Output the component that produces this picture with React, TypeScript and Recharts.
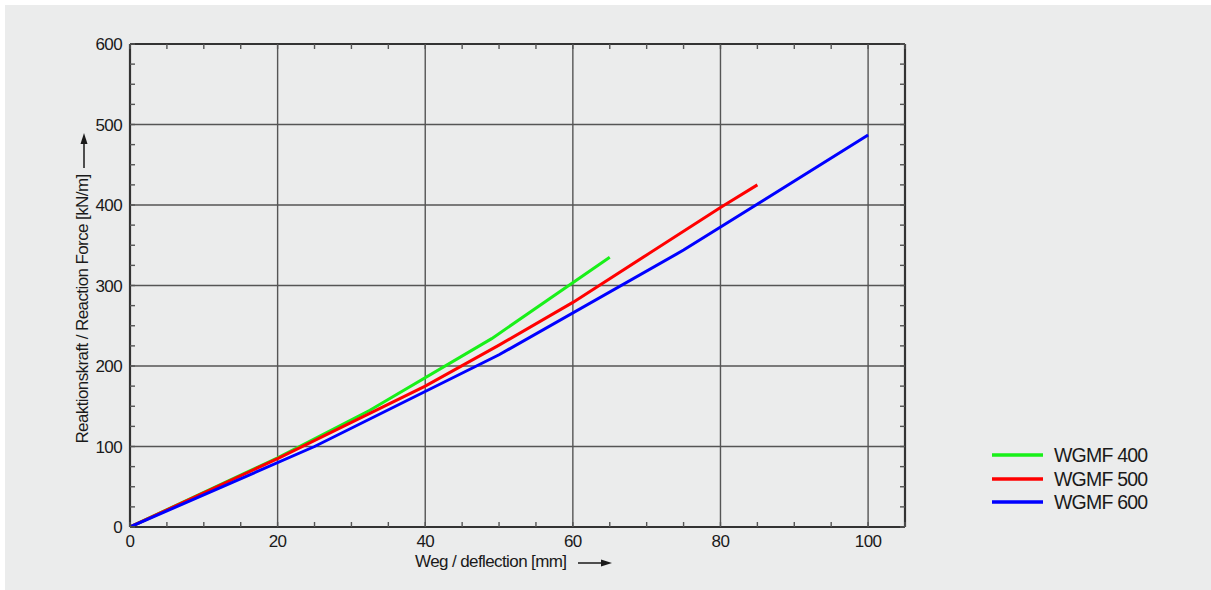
import React from 'react';
import { LineChart, Line, XAxis, YAxis, CartesianGrid } from 'recharts';

// ---- data ----
const wgmf400X = [0, 20, 32.5, 49, 65];
const wgmf400Y = [0, 86, 145, 234, 335];

const wgmf500X = [0, 20, 40, 50, 60, 70, 80, 85];
const wgmf500Y = [0, 85, 175, 226, 279, 338, 397, 425];

const wgmf600X = [0, 25, 50, 75, 100];
const wgmf600Y = [0, 100, 214, 344, 487];

const xMajorTicks = [0, 20, 40, 60, 80, 100];
const xMinorTicks = [0, 5, 10, 15, 20, 25, 30, 35, 40, 45, 50, 55, 60, 65, 70, 75, 80, 85, 90, 95, 100, 105];
const yMajorTicks = [0, 100, 200, 300, 400, 500, 600];
const yMinorTicks = [0, 25, 50, 75, 100, 125, 150, 175, 200, 225, 250, 275, 300, 325, 350, 375, 400, 425, 450, 475, 500, 525, 550, 575, 600];

const seriesNames = ['WGMF 400', 'WGMF 500', 'WGMF 600'];
const seriesColors = ['#19f019', '#ff0000', '#0000ff'];

const xTitle = 'Weg / deflection [mm]';
const yTitle = 'Reaktionskraft / Reaction Force [kN/m]';

const toPoints = (xs: number[], ys: number[]) => xs.map((x, i) => ({ x, y: ys[i] }));
const seriesData = [
  toPoints(wgmf400X, wgmf400Y),
  toPoints(wgmf500X, wgmf500Y),
  toPoints(wgmf600X, wgmf600Y),
];

const FONT = '"Liberation Sans", Arial, sans-serif';
const TEXT = '#1a1a1a';
const BG = '#ebecec';

const tickStyle = { fontSize: 17, fill: TEXT, fontFamily: FONT, letterSpacing: -0.6 };
const frameLine = { stroke: '#333', strokeWidth: 2.2 };
const TICK_LEN = 5;

const makeMinorTick = (dx: number, dy: number) => (props: any) => {
  const { x, y } = props;
  return <line x1={x} y1={y} x2={x + dx * TICK_LEN} y2={y + dy * TICK_LEN} stroke="#555" strokeWidth={1.4} />;
};
const TickBottom = makeMinorTick(0, -1);
const TickTop = makeMinorTick(0, 1);
const TickLeft = makeMinorTick(1, 0);
const TickRight = makeMinorTick(-1, 0);

export default function App() {
  return (
    <div style={{ position: 'absolute', left: 5, top: 5, width: 1206, height: 585, background: BG, fontFamily: FONT }}>
      <LineChart width={1206} height={585} margin={{ top: 39, right: 306, bottom: 33, left: 65 }}>
        <CartesianGrid xAxisId="main" yAxisId="main" stroke="#555" strokeWidth={1.4} />
        <XAxis xAxisId="main" dataKey="x" type="number" domain={[0, 105]} allowDataOverflow ticks={xMajorTicks}
          axisLine={false} tickLine={false} tickSize={0} tickMargin={8} height={30} tick={tickStyle} interval={0} />
        <XAxis xAxisId="mb" dataKey="x" type="number" domain={[0, 105]} allowDataOverflow ticks={xMinorTicks} orientation="bottom" mirror
          axisLine={frameLine} tickLine={false} tickSize={0} tickMargin={0} tick={TickBottom} interval={0} height={30} />
        <XAxis xAxisId="mt" dataKey="x" type="number" domain={[0, 105]} allowDataOverflow ticks={xMinorTicks} orientation="top" mirror
          axisLine={frameLine} tickLine={false} tickSize={0} tickMargin={0} tick={TickTop} interval={0} height={30} />
        <YAxis yAxisId="main" type="number" domain={[0, 600]} allowDataOverflow ticks={yMajorTicks}
          axisLine={false} tickLine={false} tickSize={0} tickMargin={8} width={60} tick={tickStyle} interval={0} />
        <YAxis yAxisId="ml" type="number" domain={[0, 600]} allowDataOverflow ticks={yMinorTicks} orientation="left" mirror
          axisLine={frameLine} tickLine={false} tickSize={0} tickMargin={0} tick={TickLeft} interval={0} width={60} />
        <YAxis yAxisId="mr" type="number" domain={[0, 600]} allowDataOverflow ticks={yMinorTicks} orientation="right" mirror
          axisLine={frameLine} tickLine={false} tickSize={0} tickMargin={0} tick={TickRight} interval={0} width={60} />
        {seriesData.map((d, i) => (
          <Line key={seriesNames[i]} xAxisId="main" yAxisId="main" data={d} dataKey="y" name={seriesNames[i]}
            type="linear" stroke={seriesColors[i]} strokeWidth={3} dot={false} activeDot={false}
            isAnimationActive={false} />
        ))}
      </LineChart>

      {/* x axis title with arrow */}
      <div style={{ position: 'absolute', left: 410, top: 547, height: 20, lineHeight: '20px', fontSize: 17, letterSpacing: -0.6, color: TEXT, whiteSpace: 'nowrap' }}>
        {xTitle}
      </div>
      <svg style={{ position: 'absolute', left: 570, top: 550 }} width={40} height={16}>
        <line x1={3} y1={8} x2={28} y2={8} stroke={TEXT} strokeWidth={1.5} />
        <polygon points="37,8 26,4.5 26,11.5" fill={TEXT} />
      </svg>

      {/* y axis title with arrow */}
      <div style={{ position: 'absolute', left: 78, top: 304, width: 0, height: 0 }}>
        <div style={{ position: 'absolute', transform: 'translate(-50%, -50%) rotate(-90deg)', lineHeight: '20px', fontSize: 17, letterSpacing: -0.6, color: TEXT, whiteSpace: 'nowrap' }}>
          {yTitle}
        </div>
      </div>
      <svg style={{ position: 'absolute', left: 71, top: 125 }} width={16} height={42}>
        <line x1={8} y1={38} x2={8} y2={12} stroke={TEXT} strokeWidth={1.5} />
        <polygon points="8,3 4.5,14 11.5,14" fill={TEXT} />
      </svg>

      {/* legend */}
      {seriesNames.map((n, i) => (
        <div key={n} style={{ position: 'absolute', left: 987, top: [450, 474, 497][i] - 12, height: 24, display: 'flex', alignItems: 'center' }}>
          <svg width={52} height={24} style={{ display: 'block' }}>
            <line x1={0} y1={12} x2={51} y2={12} stroke={seriesColors[i]} strokeWidth={3.5} />
          </svg>
          <span style={{ marginLeft: 10, fontSize: 19.5, letterSpacing: -0.8, color: TEXT, whiteSpace: 'nowrap', lineHeight: '24px' }}>{n}</span>
        </div>
      ))}
    </div>
  );
}
